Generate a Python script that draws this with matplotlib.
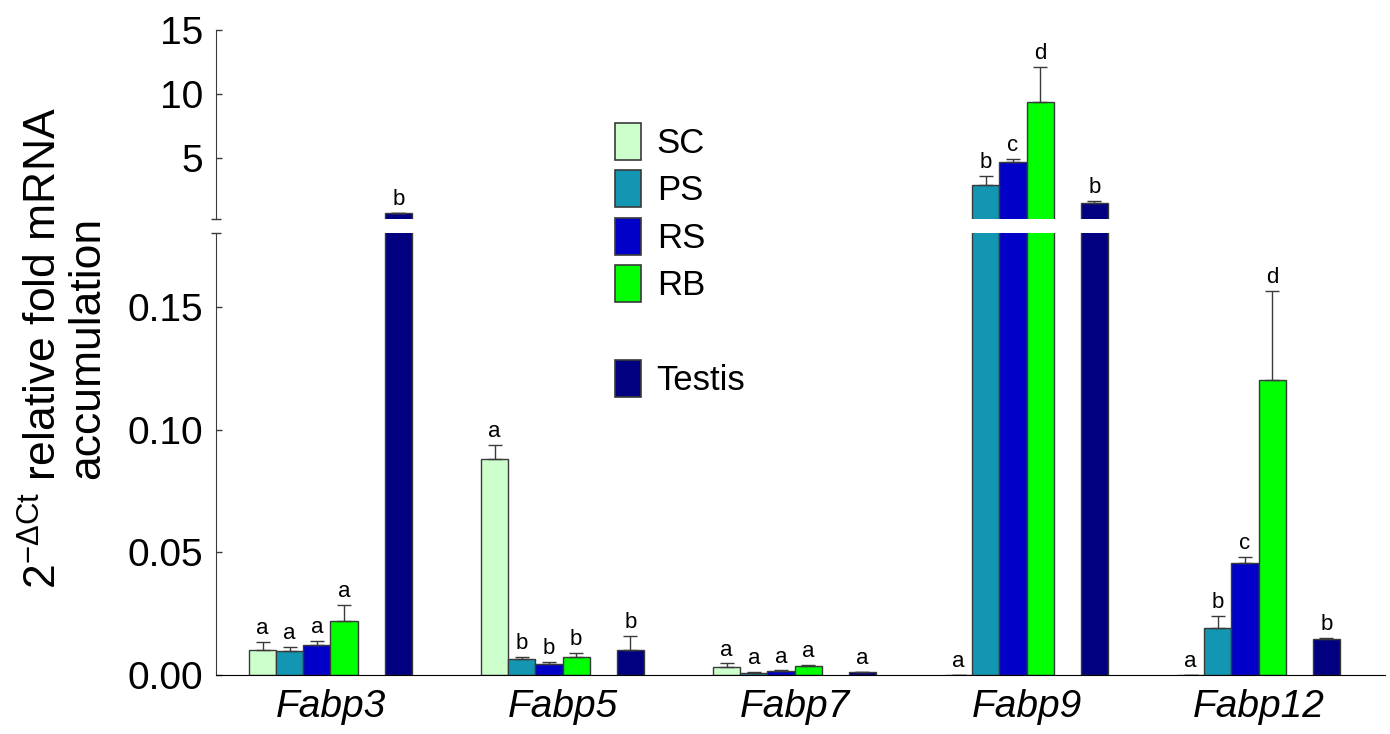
import numpy as np
import matplotlib
matplotlib.use("Agg")
import matplotlib.pyplot as plt
from matplotlib.patches import Patch

plt.rcParams['font.family'] = ['Liberation Sans', 'DejaVu Sans']
plt.rcParams['mathtext.fontset'] = 'custom'
plt.rcParams['mathtext.rm'] = 'Liberation Sans'
plt.rcParams['mathtext.it'] = 'Liberation Sans:italic'

# ---- data ----
genes = ["Fabp3", "Fabp5", "Fabp7", "Fabp9", "Fabp12"]
series = ["SC", "PS", "RS", "RB", "Testis"]

sc = [0.0102, 0.0882, 0.0033, 0.0, 0.0]
ps = [0.0099, 0.0064, 0.0010, 2.88, 0.0193]
rs = [0.0122, 0.0044, 0.0016, 4.70, 0.0457]
rb = [0.0219, 0.0072, 0.0037, 9.39, 0.1204]
testis = [0.68, 0.0102, 0.0011, 1.50, 0.0148]

sc_err = [0.0033, 0.0057, 0.0014, 0.0, 0.0]
ps_err = [0.0017, 0.0011, 0.0003, 0.73, 0.0047]
rs_err = [0.0016, 0.0008, 0.0003, 0.24, 0.0023]
rb_err = [0.0067, 0.0019, 0.0004, 2.70, 0.0360]
testis_err = [0.05, 0.0056, 0.0003, 0.13, 0.0003]

sc_sig = ["a", "a", "a", "a", "a"]
ps_sig = ["a", "b", "a", "b", "b"]
rs_sig = ["a", "b", "a", "c", "c"]
rb_sig = ["a", "b", "a", "d", "d"]
testis_sig = ["b", "b", "a", "b", "b"]

values = [sc, ps, rs, rb, testis]
errors = [sc_err, ps_err, rs_err, rb_err, testis_err]
letters = [sc_sig, ps_sig, rs_sig, rb_sig, testis_sig]
colors = ["#ccffcc", "#1296b2", "#0000c8", "#00ff00", "#000080"]
slots = [0, 1, 2, 3, 5]   # gap between RB and Testis

lower_lim = (0, 0.18)
upper_lim = (0.2, 15)

# ---- figure ----
W, H = 1390, 734
fig = plt.figure(figsize=(W / 100, H / 100), dpi=100)
left, right = 216 / W, 1385 / W
ax_up = fig.add_axes([left, 1 - 219.3 / H, right - left, (219.3 - 30) / H])
ax_lo = fig.add_axes([left, 1 - 675 / H, right - left, (675 - 233.3) / H])

x = np.arange(len(genes))
w = 0.1171
edge = "#3a3a3a"

for ax in (ax_up, ax_lo):
    for k, vals in enumerate(values):
        vals = np.array(vals)
        pos = x + (slots[k] - 2.5) * w
        ax.bar(pos, vals, width=w, color=colors[k], edgecolor=edge, linewidth=1.0)
        # error bars only in the panel where the bar ends
        tall = vals > lower_lim[1]
        keep = tall if ax is ax_up else ~tall
        err = np.array(errors[k])[keep]
        ax.errorbar(pos[keep], vals[keep], yerr=[np.zeros_like(err), err],
                    fmt="none", ecolor=edge, elinewidth=1.0, capsize=5,
                    capthick=1.0)
    ax.set_xlim(-0.4935, 4.545)
    for s in ("top", "right"):
        ax.spines[s].set_visible(False)
    ax.spines["left"].set_color(edge)
    ax.tick_params(axis="y", direction="in", length=4, width=1, color=edge,
                   labelsize=28, pad=9)
    ax.tick_params(axis="y", which="minor", direction="inout", length=7,
                   width=1, color=edge)

ax_up.set_ylim(*upper_lim)
ax_up.set_yticks([5, 10, 15])
ax_up.set_yticks([upper_lim[0]], minor=True)
ax_up.spines["bottom"].set_visible(False)
ax_up.set_xticks([])

ax_lo.set_ylim(*lower_lim)
ax_lo.set_yticks([0, 0.05, 0.10, 0.15])
ax_lo.set_yticklabels(["0.00", "0.05", "0.10", "0.15"])
ax_lo.set_yticks([lower_lim[1]], minor=True)
ax_lo.spines["bottom"].set_color("black")
ax_lo.set_xticks(x)
ax_lo.set_xticklabels(genes, fontsize=28, style="italic")
ax_lo.tick_params(axis="x", length=0, pad=10)

# significance letters
for k in range(len(series)):
    pos = x + (slots[k] - 2.5) * w
    for i in range(len(genes)):
        top = values[k][i] + errors[k][i]
        ax = ax_up if values[k][i] > lower_lim[1] else ax_lo
        ax.annotate(letters[k][i], (pos[i], top), xytext=(0, 2),
                    textcoords="offset points", ha="center", va="bottom",
                    fontsize=16)

# legend with a blank row before Testis
handles = [Patch(facecolor=c, edgecolor=edge, linewidth=1.2) for c in colors[:4]]
handles.append(Patch(visible=False))
handles.append(Patch(facecolor=colors[4], edgecolor=edge, linewidth=1.2))
labels = series[:4] + [" "] + [series[4]]
fig.legend(handles, labels, loc="upper left", bbox_to_anchor=(615 / W, 1 - 123 / H),
           frameon=False, fontsize=25, handlelength=0.75, handleheight=1.25,
           handletextpad=0.45, labelspacing=0.3, borderpad=0, borderaxespad=0)

# y label in two lines
fig.text(44 / W, 1 - 348 / H, r"$2^{\mathrm{-ΔCt}}$ relative fold mRNA",
         rotation=90, ha="center", va="center", fontsize=32)
fig.text(88 / W, 1 - 348 / H, "accumulation",
         rotation=90, ha="center", va="center", fontsize=32)

fig.savefig("out.png", dpi=100)
